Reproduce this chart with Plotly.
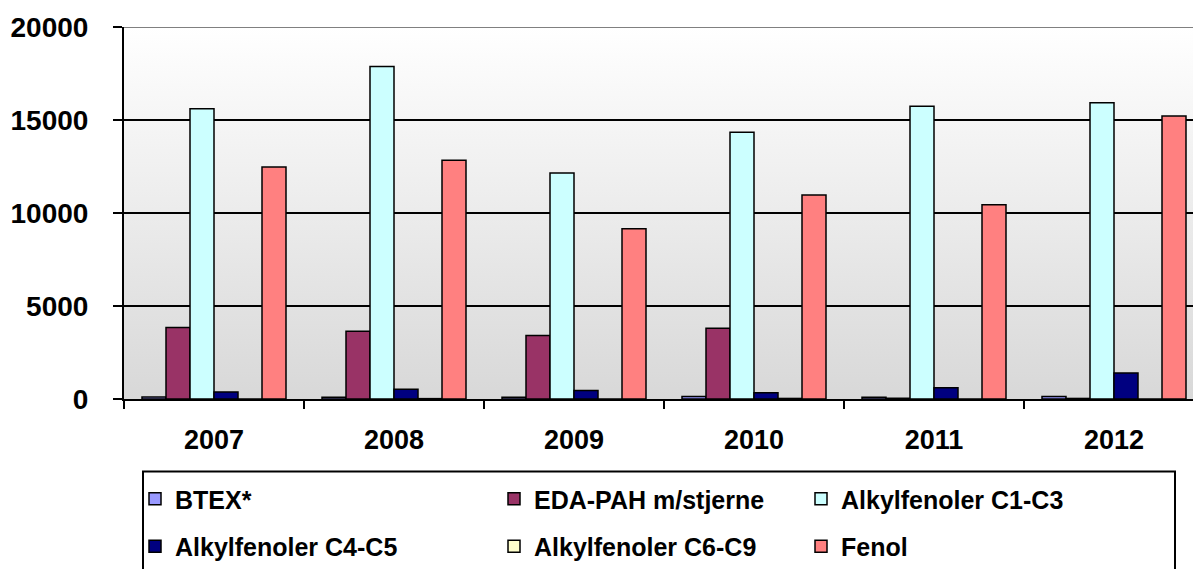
import base64
import plotly.graph_objects as go

years = ["2007", "2008", "2009", "2010", "2011", "2012"]

btex = [105, 100, 100, 130, 100, 140]
eda_pah = [3850, 3640, 3420, 3800, 40, 30]
alkyl_c1_c3 = [15610, 17870, 12150, 14340, 15740, 15930]
alkyl_c4_c5 = [380, 520, 460, 330, 600, 1400]
alkyl_c6_c9 = [0, 20, 0, 30, 0, 0]
fenol = [12470, 12840, 9150, 10970, 10440, 15215]

series = [
    ("BTEX*", btex, "#9999ff", "legend"),
    ("EDA-PAH m/stjerne", eda_pah, "#993366", "legend2"),
    ("Alkylfenoler C1-C3", alkyl_c1_c3, "#ccffff", "legend3"),
    ("Alkylfenoler C4-C5", alkyl_c4_c5, "#000080", "legend"),
    ("Alkylfenoler C6-C9", alkyl_c6_c9, "#ffffcc", "legend2"),
    ("Fenol", fenol, "#ff8080", "legend3"),
]

y_ticks = [0, 5000, 10000, 15000, 20000]

FONT = "Liberation Sans, Arial, sans-serif"

fig = go.Figure()
for i, (name, vals, color, leg) in enumerate(series):
    fig.add_trace(go.Bar(
        x=years, y=vals, name=name,
        marker=dict(color=color, line=dict(color="black", width=1.5)),
        legend=leg, legendgroup=f"g{i}",
    ))

# vertical grey gradient behind the plot area
svg = (
    '<svg xmlns="http://www.w3.org/2000/svg" width="10" height="100" '
    'preserveAspectRatio="none"><defs><linearGradient id="g" x1="0" y1="0" '
    'x2="0" y2="1"><stop offset="0" stop-color="#ffffff"/>'
    '<stop offset="1" stop-color="#d8d8d8"/></linearGradient></defs>'
    '<rect width="10" height="100" fill="url(#g)"/></svg>'
)
bg_src = "data:image/svg+xml;base64," + base64.b64encode(svg.encode()).decode()

W, H = 1193, 569
L, T, B = 124, 27, 168
plot_w = W - L
plot_h = H - T - B
cat_px = 180.0
x_hi = -0.5 + plot_w / cat_px


def px_x(px):
    return (px - L) / plot_w


def px_y(py):
    return (H - B - py) / plot_h


legend_common = dict(
    orientation="v", yanchor="top", xanchor="left",
    font=dict(family=FONT, size=25, color="black", weight="bold"),
    bgcolor="rgba(0,0,0,0)", borderwidth=0,
    traceorder="grouped", tracegroupgap=12,
)

fig.update_layout(
    width=W, height=H,
    margin=dict(l=L, r=0, t=T, b=B),
    paper_bgcolor="white", plot_bgcolor="white",
    barmode="group", bargap=0.2, bargroupgap=0,
    showlegend=True,
    legend=dict(x=px_x(135), y=px_y(479), **legend_common),
    legend2=dict(x=px_x(494), y=px_y(479), **legend_common),
    legend3=dict(x=px_x(801), y=px_y(479), **legend_common),
    xaxis=dict(
        type="category", range=[-0.5, x_hi], tickson="boundaries",
        ticks="outside", ticklen=8, tickwidth=2, tickcolor="black",
        showline=True, linecolor="black", linewidth=2, showgrid=False,
        ticklabelstandoff=16,
        tickfont=dict(family=FONT, size=27, color="black", weight="bold"),
    ),
    yaxis=dict(
        range=[0, 20000], tickvals=y_ticks, ticktext=[str(v) for v in y_ticks],
        ticks="outside", ticklen=9, tickwidth=2, tickcolor="black",
        showline=True, linecolor="black", linewidth=2,
        showgrid=True, gridcolor="black", gridwidth=2, zeroline=False,
        ticklabelstandoff=19,
        tickfont=dict(family=FONT, size=28, color="black", weight="bold"),
    ),
    images=[dict(
        source=bg_src, xref="paper", yref="paper", x=0, y=1,
        sizex=1, sizey=1, xanchor="left", yanchor="top",
        sizing="stretch", layer="below",
    )],
    shapes=[
        dict(type="line", xref="paper", yref="y", x0=0, x1=1, y0=20000, y1=20000,
             line=dict(color="#808080", width=2), layer="above"),
        dict(type="rect", xref="paper", yref="paper",
             x0=px_x(143), x1=px_x(1175), y0=px_y(474), y1=px_y(620),
             line=dict(color="black", width=2), fillcolor="rgba(0,0,0,0)",
             layer="above"),
    ],
)

fig.write_html("out.html")
